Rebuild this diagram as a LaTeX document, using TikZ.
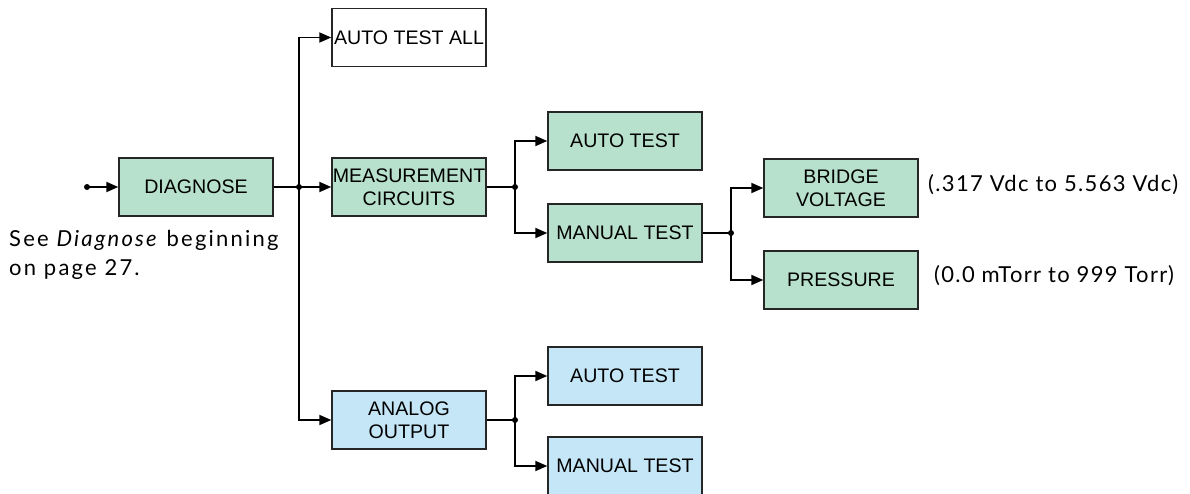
\documentclass[tikz,border=0pt]{standalone}
\usepackage{fontspec}
\setmainfont{Liberation Sans}
\newfontfamily\notefont[LetterSpace=6]{Lato}
\newfontfamily\seefont[LetterSpace=10]{Lato}
\usetikzlibrary{arrows.meta}
\definecolor{boxgreen}{RGB}{183,225,205}
\definecolor{boxblue}{RGB}{197,230,247}
\begin{document}
\begin{tikzpicture}[x=1pt,y=-1pt,
  box/.style={draw=black!85, line width=1.4pt, minimum width=154pt, minimum height=58pt,
    inner sep=0pt, align=center, font=\fontsize{19.6}{23}\selectfont},
  gbox/.style={box, fill=boxgreen},
  bbox/.style={box, fill=boxblue},
  wbox/.style={box, fill=white},
  conn/.style={line width=1.8pt},
  arr/.style={conn, -{Triangle[length=12pt,width=10pt]}},
  jdot/.style={circle, fill=black, inner sep=0pt, minimum size=6pt},
  note/.style={font=\notefont\fontsize{22}{29}\selectfont, inner sep=0pt, anchor=west},
]
\useasboundingbox (0,0) rectangle (1190,494);

\node[wbox] (ata) at (409,37.5) {AUTO TEST ALL};
\node[gbox] (diag) at (196,187) {DIAGNOSE};
\node[gbox] (meas) at (409,187) {MEASUREMENT\\CIRCUITS};
\node[gbox] (mauto) at (625,141) {AUTO TEST};
\node[gbox] (mman) at (625,233) {MANUAL TEST};
\node[gbox] (bridge) at (841,188) {BRIDGE\\VOLTAGE};
\node[gbox] (press) at (841,280) {PRESSURE};
\node[bbox] (ana) at (409,420) {ANALOG\\OUTPUT};
\node[bbox] (aauto) at (625,376) {AUTO TEST};
\node[bbox] (aman) at (625,466) {MANUAL TEST};

\coordinate (in) at (87,187);
\coordinate (j1) at (299,187);
\coordinate (j2) at (515,187);
\coordinate (j3) at (731,233);
\coordinate (j4) at (515,420);

\draw[arr] (in) -- (diag.west);
\draw[conn] (diag.east) -- (j1);
\draw[arr] (j1) -- (meas.west);
\draw[arr] (j1) |- (ata.west);
\draw[arr] (j1) |- (ana.west);

\draw[conn] (meas.east) -- (j2);
\draw[arr] (j2) |- (mauto.west);
\draw[arr] (j2) |- (mman.west);

\draw[conn] (mman.east) -- (j3);
\draw[arr] (j3) |- (bridge.west);
\draw[arr] (j3) |- (press.west);

\draw[conn] (ana.east) -- (j4);
\draw[arr] (j4) |- (aauto.west);
\draw[arr] (j4) |- (aman.west);

\foreach \p in {in,j1,j2,j3,j4} \node[jdot] at (\p) {};

\node[note] (vlab) at (928,185) {(.317 Vdc to 5.563 Vdc)};
\node[note] (plab) at (934,276) {(0.0 mTorr to 999 Torr)};
\node[note, font=\seefont\fontsize{22}{29}\selectfont, align=left, anchor=north west] (see) at (9,230) {See \textit{Diagnose} beginning\\on page 27.};
\end{tikzpicture}
\end{document}
